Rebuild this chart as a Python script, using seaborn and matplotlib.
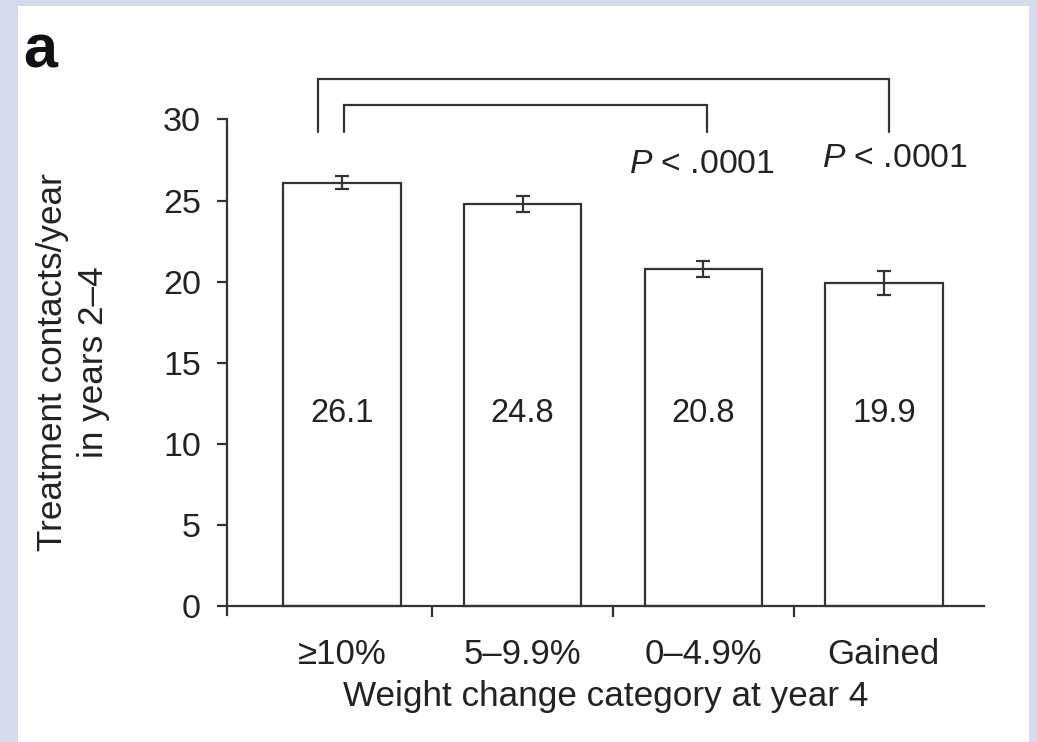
import seaborn as sns
import matplotlib.pyplot as plt
import pandas as pd
from matplotlib.patches import Rectangle

# Dados
categorias = ["≥10%", "5–9.9%", "0–4.9%", "Gained"]
contatos = [26.1, 24.8, 20.8, 19.9]
erro_padrao = [0.4, 0.5, 0.5, 0.75]
rotulos_p = ["$P$ < .0001", "$P$ < .0001"]

dados = pd.DataFrame({"Categoria": categorias, "Contatos": contatos})

sns.set_style("ticks")
plt.rcParams["font.family"] = ["Liberation Sans", "DejaVu Sans"]
plt.rcParams["mathtext.fontset"] = "custom"
plt.rcParams["mathtext.it"] = "Liberation Sans:italic"
plt.rcParams["mathtext.rm"] = "Liberation Sans"

cor_linha = "#333333"
cor_texto = "#222222"

fig = plt.figure(figsize=(10.37, 7.42), dpi=100, facecolor="#d6dbeb")
# painel branco sobre o fundo azulado
fig.patches.append(Rectangle((18 / 1037, 0), (1029 - 18) / 1037, 1 - 6 / 742,
                             transform=fig.transFigure, facecolor="white",
                             edgecolor="none", zorder=-10))
ax = fig.add_axes([0.2186, 0.171, 0.7304, 0.668])
ax.set_facecolor("none")

sns.barplot(data=dados, x="Categoria", y="Contatos", color="white",
            edgecolor=cor_linha, linewidth=1.6, width=0.65, errorbar=None, ax=ax)
ax.errorbar(range(len(categorias)), contatos, yerr=erro_padrao, fmt="none",
            ecolor=cor_linha, elinewidth=1.6, capsize=5, capthick=1.6)

# valores dentro das barras
for i, v in enumerate(contatos):
    ax.text(i, 11.9, f"{v:.1f}", ha="center", va="center", fontsize=23.5, color=cor_texto)

# colchetes de comparação
ax.plot([0.01, 0.01, 2.02, 2.02], [29.2, 30.9, 30.9, 29.2], color=cor_linha,
        lw=1.6, clip_on=False, solid_joinstyle="miter")
ax.plot([-0.13, -0.13, 3.03, 3.03], [29.2, 32.5, 32.5, 29.2], color=cor_linha,
        lw=1.6, clip_on=False, solid_joinstyle="miter")
ax.text(1.99, 27.25, rotulos_p[0], ha="center", va="center", fontsize=24.3, color=cor_texto)
ax.text(3.06, 27.6, rotulos_p[1], ha="center", va="center", fontsize=24.3, color=cor_texto)

ax.set_xlim(-0.638, 3.555)
ax.set_ylim(-0.55, 30)
ax.set_yticks([0, 5, 10, 15, 20, 25, 30])
ax.spines["bottom"].set_position(("data", 0))
ax.spines["top"].set_visible(False)
ax.spines["right"].set_visible(False)
for s in ("left", "bottom"):
    ax.spines[s].set_color(cor_linha)
    ax.spines[s].set_linewidth(1.6)

ax.set_xticks([0.5, 1.5, 2.5], minor=True)
ax.tick_params(axis="x", which="major", length=0, pad=23, labelsize=25, labelcolor=cor_texto)
ax.tick_params(axis="x", which="minor", length=8, width=1.6, color=cor_linha, direction="out")
ax.tick_params(axis="y", length=7.5, width=1.6, color=cor_linha, pad=11,
               labelsize=24.5, labelcolor=cor_texto)

ax.set_xlabel("Weight change category at year 4", fontsize=25.3, color=cor_texto, va="center")
ax.xaxis.set_label_coords(0.5, -0.165)
ax.set_ylabel("Treatment contacts/year\nin years 2–4", fontsize=25.3, color=cor_texto,
              va="center", linespacing=1.3)
ax.yaxis.set_label_coords(-0.203, 0.51)

fig.text(23 / 1037, 1 - 68 / 742, "a", fontsize=44, fontweight="bold", color="#111111",
         ha="left", va="baseline")

fig.savefig("out.png", dpi=100, facecolor=fig.get_facecolor())
